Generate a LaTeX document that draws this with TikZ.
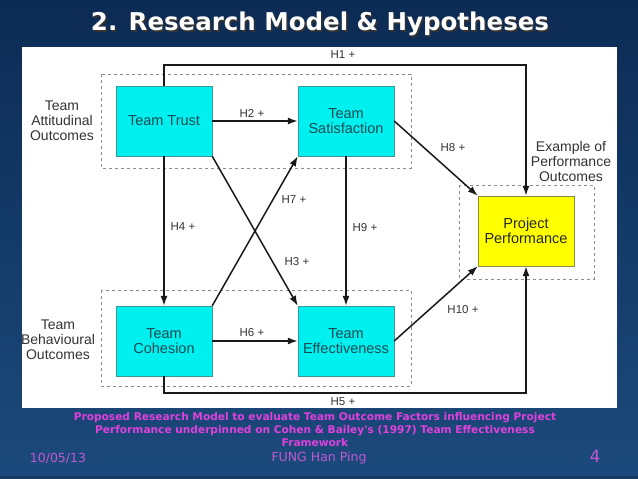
\documentclass[tikz,border=0pt]{standalone}
\usepackage{fontspec}
\setmainfont{Liberation Sans}
\newfontfamily\slidefont{DejaVu Sans}
\usetikzlibrary{positioning,arrows.meta}

\definecolor{slidetop}{HTML}{0C2B54}
\definecolor{slidebot}{HTML}{1C4A7C}
\definecolor{boxcyan}{HTML}{00F0F0}
\definecolor{boxedge}{HTML}{3A9898}
\definecolor{boxtext}{HTML}{174A50}
\definecolor{perfyellow}{HTML}{FFFF00}
\definecolor{perfedge}{HTML}{8A8A40}
\definecolor{capmag}{HTML}{E040DC}
\definecolor{footmag}{HTML}{C058D0}

\begin{document}
\begin{tikzpicture}[x=1pt, y=-1pt,
  cbox/.style={draw=boxedge, fill=boxcyan, text=boxtext, minimum width=96pt, minimum height=70pt,
    align=center, font=\fontsize{14.5}{15.5}\selectfont},
  ybox/.style={cbox, draw=perfedge, fill=perfyellow, text=black!85},
  group/.style={draw=black!45, dashed, line width=0.9pt},
  hyp/.style={draw=black!90, line width=1.5pt, -{Latex[length=10pt,width=7pt]}},
  hlab/.style={font=\fontsize{11.5}{13}\selectfont, text=black!80},
  side/.style={align=center, font=\fontsize{14}{15}\selectfont, text=black!80}]
  % slide background
  \useasboundingbox (0,0) rectangle (638,479);
  \shade[top color=slidetop, bottom color=slidebot] (0,0) rectangle (638,479);
  \fill[black!20!slidebot] (0,476) rectangle (638,479);
  \fill[white] (22,47) rectangle (617,408);

  % title
  \node[text=black!80, font=\slidefont\bfseries\fontsize{24.5}{28}\selectfont] (titleshadow) at (321.5,25.5) {2. Research Model \& Hypotheses};
  \node[text=white, font=\slidefont\bfseries\fontsize{24.5}{28}\selectfont] (title) at (320,24) {2. Research Model \& Hypotheses};

  % outcome groups
  \draw[group] (101,74) rectangle (411,168);
  \draw[group] (101,290) rectangle (411,386);
  \draw[group] (459,185) rectangle (594,279);
  \node[side] (attlab) at (62,121) {Team\\Attitudinal\\Outcomes};
  \node[side] (behlab) at (58,340) {Team\\Behavioural\\Outcomes};
  \node[side] (perflab) at (571,161) {Example of\\Performance\\Outcomes};

  % factors
  \node[cbox] (trust) at (164,121) {Team Trust};
  \node[cbox] (sat) at (346,121) {Team\\Satisfaction};
  \node[cbox] (coh) at (164,341) {Team\\Cohesion};
  \node[cbox] (eff) at (346,341) {Team\\Effectiveness};
  \node[ybox] (perf) at (526,231) {Project\\Performance};

  % hypotheses
  \coordinate (h1turn) at (526,65);
  \coordinate (h5turn) at (526,393);
  \draw[hyp] (trust.north) |- (h1turn) -- (perf.north);
  \draw[hyp] (trust.east) -- (sat.west);
  \draw[hyp] (trust.south east) -- (eff.north west);
  \draw[hyp] (trust.south) -- (coh.north);
  \draw[hyp] (coh.south) |- (h5turn) -- (perf.south);
  \draw[hyp] (coh.east) -- (eff.west);
  \draw[hyp] (coh.north east) -- (sat.south west);
  \draw[hyp] (sat.east) -- (perf.north west);
  \draw[hyp] (sat.south) -- (eff.north);
  \draw[hyp] (eff.east) -- (perf.south west);

  \node[hlab] (h1) at (343,55) {H1 +};
  \node[hlab] (h2) at (252,113) {H2 +};
  \node[hlab] (h3) at (297,262) {H3 +};
  \node[hlab] (h4) at (183,227) {H4 +};
  \node[hlab] (h5) at (343,402) {H5 +};
  \node[hlab] (h6) at (252,333) {H6 +};
  \node[hlab] (h7) at (294,200) {H7 +};
  \node[hlab] (h8) at (453,148) {H8 +};
  \node[hlab] (h9) at (365,228) {H9 +};
  \node[hlab] (h10) at (463,310) {H10 +};

  % caption and footer
  \node[text=capmag, align=center, font=\slidefont\bfseries\fontsize{10.6}{13}\selectfont] (caption) at (315,430)
    {Proposed Research Model to evaluate Team Outcome Factors influencing Project\\
     Performance underpinned on Cohen \& Bailey's (1997) Team Effectiveness\\
     Framework};
  \node[text=footmag, font=\slidefont\fontsize{12.5}{14}\selectfont] (date) at (58,458) {10/05/13};
  \node[text=footmag, font=\slidefont\fontsize{12.5}{14}\selectfont] (author) at (319,458) {FUNG Han Ping};
  \node[text=footmag, font=\slidefont\fontsize{17}{19}\selectfont] (page) at (595,456) {4};
\end{tikzpicture}
\end{document}
